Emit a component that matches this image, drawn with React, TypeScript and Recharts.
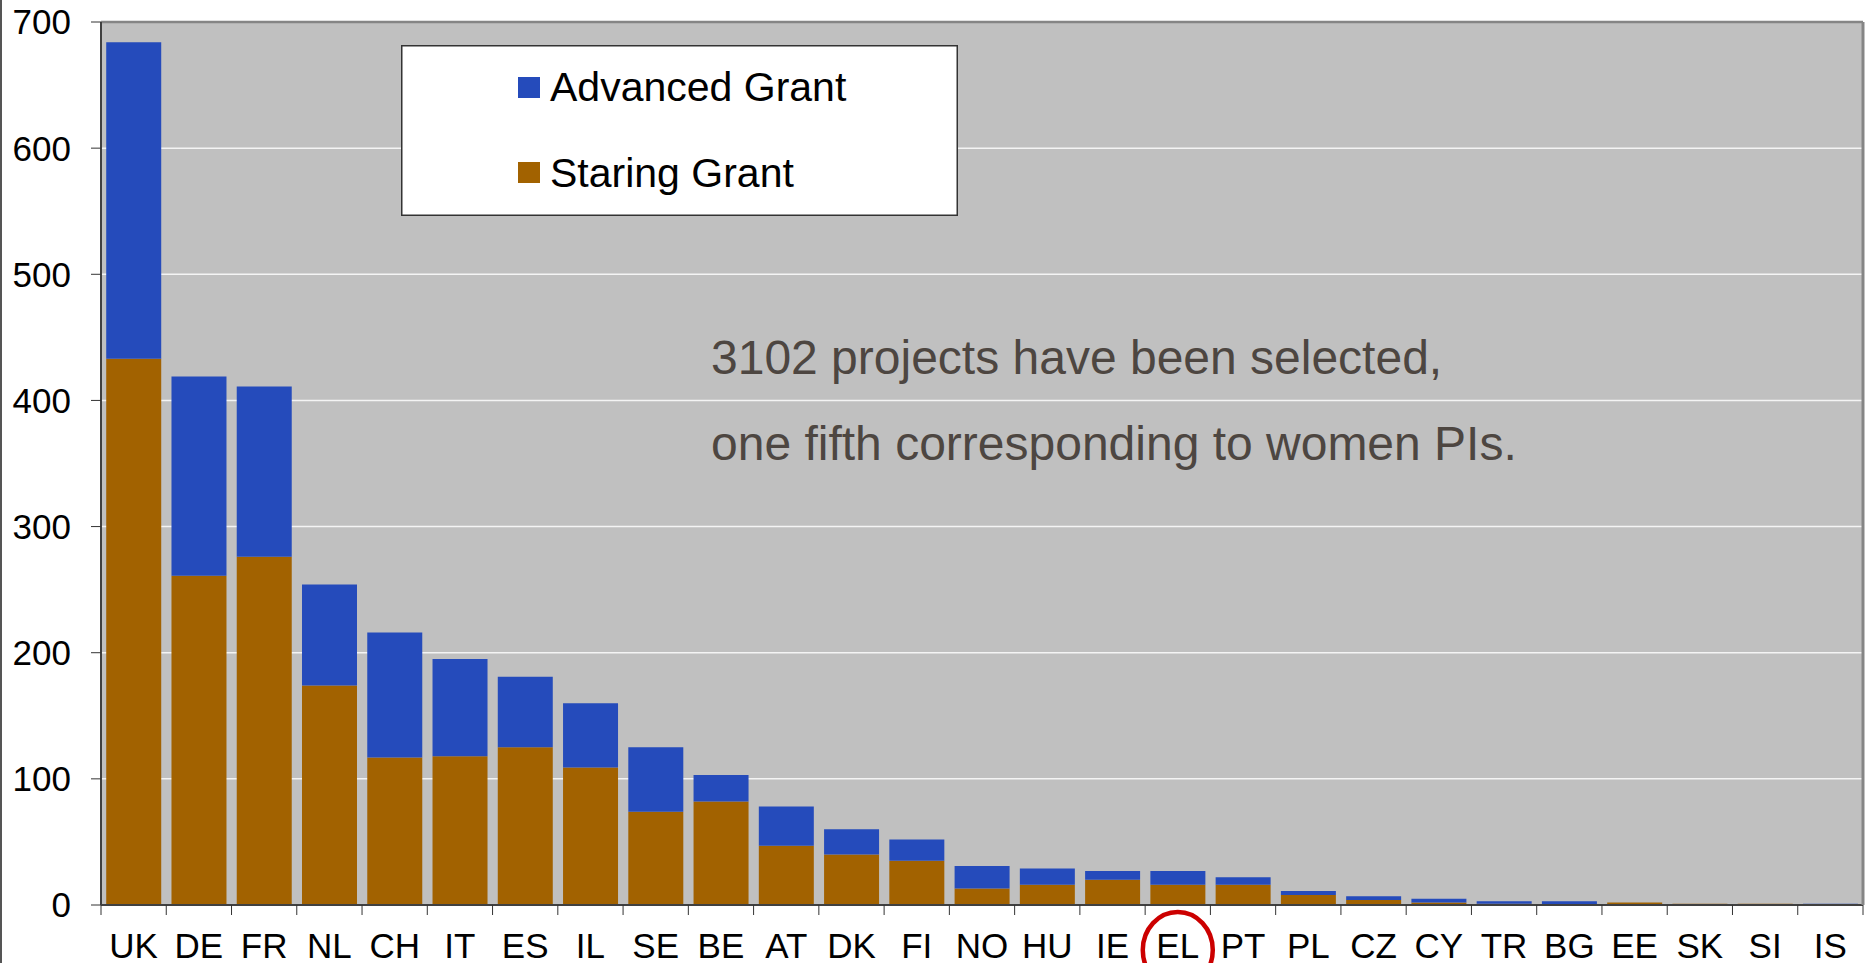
import { BarChart, Bar, XAxis, YAxis, CartesianGrid, Legend, ReferenceLine } from "recharts";

const countries = [
  "UK", "DE", "FR", "NL", "CH", "IT", "ES", "IL", "SE", "BE", "AT", "DK", "FI", "NO",
  "HU", "IE", "EL", "PT", "PL", "CZ", "CY", "TR", "BG", "EE", "SK", "SI", "IS",
];
const starting = [433, 261, 276, 174, 117, 118, 125, 109, 74, 82, 47, 40, 35, 13, 16, 20, 16, 16, 8, 4, 2, 1, 0, 2, 1, 1, 0];
const advanced = [251, 158, 135, 80, 99, 77, 56, 51, 51, 21, 31, 20, 17, 18, 13, 7, 11, 6, 3, 3, 3, 2, 3, 0, 0, 0, 1];
const yTicks = [0, 100, 200, 300, 400, 500, 600, 700];
const legendOrder = ["Advanced Grant", "Staring Grant"];
const highlighted = ["EL"];
const note = ["3102 projects have been selected,", "one fifth corresponding to women PIs."];

const data = countries.map((country, i) => ({
  country,
  starting: starting[i],
  advanced: advanced[i],
}));

const W = 1870;
const H = 963;
const Y_AXIS_W = 101;
const RIGHT_W = 7;
const BAND = (W - Y_AXIS_W - RIGHT_W) / countries.length;
const FONT = '"Liberation Sans", Arial, sans-serif';

function XTick(props: any) {
  const { x, y, payload, index } = props;
  const axisY = y - 28;
  const half = BAND / 2;
  return (
    <g>
      <line x1={x - half} x2={x - half} y1={axisY} y2={axisY + 10} stroke="#333" />
      {index === countries.length - 1 && (
        <line x1={x + half} x2={x + half} y1={axisY} y2={axisY + 10} stroke="#333" />
      )}
      <text x={x} y={y} dy="0.71em" textAnchor="middle" fontSize={35} fill="#000">
        {payload.value}
      </text>
      {highlighted.includes(payload.value) && (
        <ellipse cx={x} cy={y + 17} rx={35} ry={38} fill="none" stroke="#cc0000" strokeWidth={4.5} />
      )}
    </g>
  );
}

function LegendBox(props: any) {
  const items = [...(props.payload || [])].sort(
    (a: any, b: any) => legendOrder.indexOf(a.value) - legendOrder.indexOf(b.value),
  );
  return (
    <svg width={557} height={171} style={{ display: "block" }}>
      <rect x={0.75} y={0.75} width={555.5} height={169.5} fill="#fff" stroke="#333" strokeWidth={1.5} />
      {items.map((p: any, i: number) => (
        <g key={p.value}>
          <rect x={117} y={32 + i * 85} width={22} height={21} fill={p.color} />
          <text x={149} y={56 + i * 86} fontSize={41} fill="#000">
            {p.value}
          </text>
        </g>
      ))}
    </svg>
  );
}

export default function App() {
  return (
    <div
      style={{
        position: "absolute",
        left: 0,
        top: 0,
        width: W,
        height: H,
        background: "#fff",
        fontFamily: FONT,
      }}
    >
      <div style={{ position: "absolute", left: 0, top: 0, width: 2, height: H, background: "#555" }} />
      <BarChart
        width={W}
        height={H}
        data={data}
        margin={{ top: 22, right: 0, bottom: 0, left: 0 }}
        barCategoryGap="8%"
      >
        <CartesianGrid vertical={false} stroke="#f4f4f4" strokeWidth={1.5} fill="#c0c0c0" fillOpacity={1} />
        <XAxis
          dataKey="country"
          interval={0}
          height={58}
          tickSize={10}
          tickMargin={18}
          tickLine={false}
          axisLine={{ stroke: "#404040", strokeWidth: 2 }}
          tick={<XTick />}
        />
        <YAxis
          width={Y_AXIS_W}
          domain={[0, 700]}
          ticks={yTicks}
          interval={0}
          tickSize={10}
          tickMargin={20}
          tick={{ fontSize: 35, fill: "#000" }}
          tickLine={{ stroke: "#333" }}
          axisLine={{ stroke: "#404040", strokeWidth: 2 }}
        />
        <YAxis
          yAxisId="frame"
          orientation="right"
          width={RIGHT_W}
          domain={[0, 700]}
          tick={false}
          tickLine={false}
          axisLine={{ stroke: "#858585", strokeWidth: 3 }}
        />
        <ReferenceLine y={700} stroke="#858585" strokeWidth={2.5} />
        <Legend
          layout="horizontal"
          verticalAlign="middle"
          align="center"
          content={<LegendBox />}
          wrapperStyle={{ left: 401, top: 45, width: 557, height: 171 }}
        />
        <Bar dataKey="starting" name="Staring Grant" stackId="g" fill="#a26200" isAnimationActive={false} />
        <Bar dataKey="advanced" name="Advanced Grant" stackId="g" fill="#254bbb" isAnimationActive={false} />
      </BarChart>
      <svg
        width={W}
        height={H}
        style={{ position: "absolute", left: 0, top: 0, pointerEvents: "none" }}
      >
        {note.map((line, i) => (
          <text key={i} x={711} y={374 + i * 86} fontSize={48} fill="#4d4641">
            {line}
          </text>
        ))}
      </svg>
    </div>
  );
}
